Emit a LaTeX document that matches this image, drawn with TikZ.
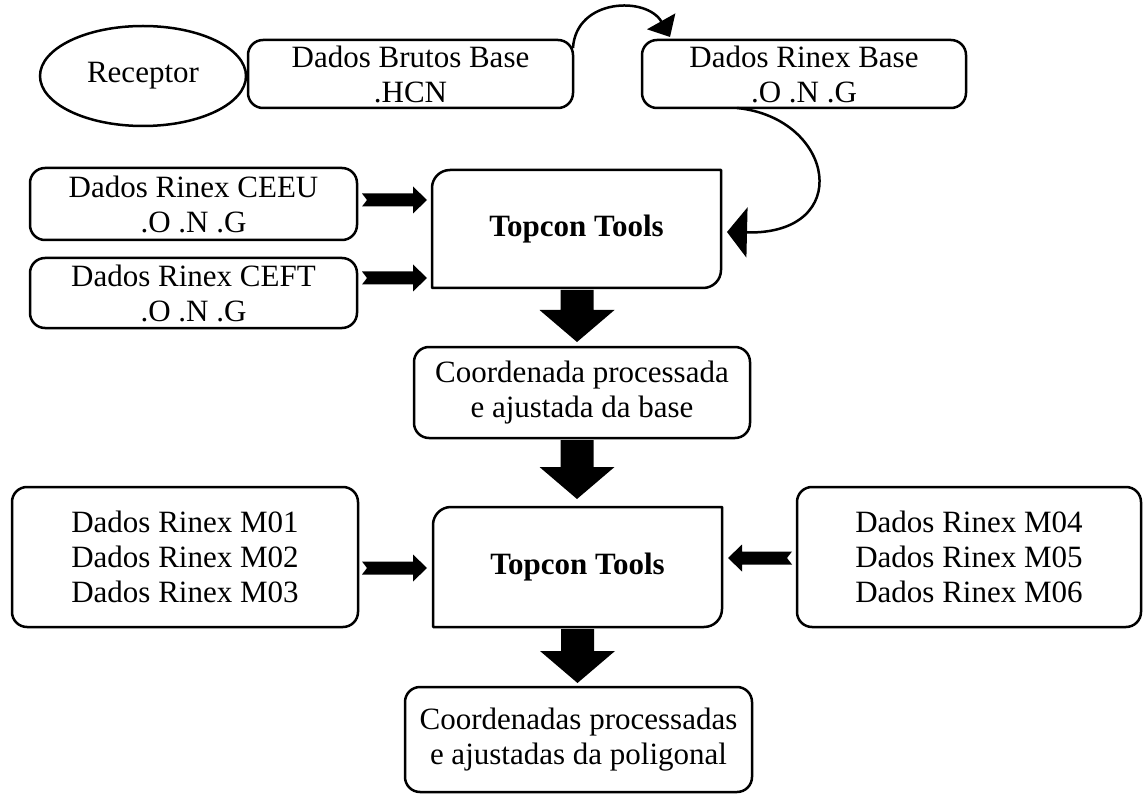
\documentclass[tikz,border=0pt]{standalone}
\usepackage{fontspec}
\setmainfont{Liberation Serif}
\usetikzlibrary{calc,arrows.meta,shapes.geometric}

% block arrows between named points (canvas geometry)
\newcommand{\blkR}[2]{\fill let \p1=(#1), \p2=(#2) in
  (\x1,\y1+6.5pt) -- (\x2-14pt,\y1+6.5pt) -- (\x2-14pt,\y1+13.5pt) -- (\x2,\y1)
  -- (\x2-14pt,\y1-13.5pt) -- (\x2-14pt,\y1-6.5pt) -- (\x1,\y1-6.5pt) -- (\x1+5pt,\y1) -- cycle;}
\newcommand{\blkL}[2]{\fill let \p1=(#1), \p2=(#2) in
  (\x1,\y1+6.5pt) -- (\x2+14pt,\y1+6.5pt) -- (\x2+14pt,\y1+13.5pt) -- (\x2,\y1)
  -- (\x2+14pt,\y1-13.5pt) -- (\x2+14pt,\y1-6.5pt) -- (\x1,\y1-6.5pt) -- (\x1-5pt,\y1) -- cycle;}
\newcommand{\blkD}[2]{\fill let \p1=(#1), \p2=(#2) in
  (\x1-16.5pt,\y1) -- (\x1+16.5pt,\y1) -- (\x1+16.5pt,\y2+32pt) -- (\x1+37.5pt,\y2+32pt)
  -- (\x1,\y2) -- (\x1-37.5pt,\y2+32pt) -- (\x1-16.5pt,\y2+32pt) -- cycle;}
% box with rounded top-left and bottom-right corners
\newcommand{\diagbox}[1]{\draw[boxline]
  ([yshift=-18pt]#1.north west) .. controls ([yshift=-8pt]#1.north west) and ([xshift=8pt]#1.north west) .. ([xshift=18pt]#1.north west)
  -- (#1.north east)
  -- ([yshift=18pt]#1.south east) .. controls ([yshift=8pt]#1.south east) and ([xshift=-8pt]#1.south east) .. ([xshift=-18pt]#1.south east)
  -- (#1.south west) -- cycle;}

\tikzset{
  boxline/.style={line width=2.5pt, line join=round},
  rbox/.style={draw, line width=2.5pt, rounded corners=15pt, align=center, inner sep=0pt, outer sep=0pt},
  tbox/.style={align=center, inner sep=0pt, outer sep=0pt, font=\fontsize{31}{35}\selectfont\bfseries},
  curvy/.style={line width=2.5pt},
}

\begin{document}
\begin{tikzpicture}[x=1pt, y=-1pt, font=\fontsize{31}{35}\selectfont]
\useasboundingbox[fill=white] (0,0) rectangle (1143,794);

\node[draw, ellipse, line width=2.5pt, inner sep=0pt, minimum width=206pt, minimum height=100pt] (rec) at (143,76) {Receptor};
\node[rbox, minimum width=325pt, minimum height=68pt] (brutos) at (410.5,74) {Dados Brutos Base\\.HCN};
\node[rbox, minimum width=324pt, minimum height=68pt] (rbase) at (804,74) {Dados Rinex Base\\.O .N .G};
\node[rbox, minimum width=327pt, minimum height=72pt] (ceeu) at (193.5,204) {Dados Rinex CEEU\\.O .N .G};
\node[rbox, minimum width=327pt, minimum height=70pt] (ceft) at (193.5,293) {Dados Rinex CEFT\\.O .N .G};
\node[tbox, minimum width=289pt, minimum height=118pt] (t1) at (576.5,229) {Topcon Tools};
\node[rbox, minimum width=336pt, minimum height=91pt] (coord) at (582,392.5) {Coordenada processada\\e ajustada da base};
\node[tbox, minimum width=289pt, minimum height=120pt] (t2) at (577.5,567) {Topcon Tools};
\node[rbox, minimum width=346pt, minimum height=140pt] (m01) at (185,557) {Dados Rinex M01\\Dados Rinex M02\\Dados Rinex M03};
\node[rbox, minimum width=344pt, minimum height=140pt] (m04) at (969,557) {Dados Rinex M04\\Dados Rinex M05\\Dados Rinex M06};
\node[rbox, minimum width=347pt, minimum height=105pt] (final) at (578.5,739.5) {Coordenadas processadas\\e ajustadas da poligonal};

\diagbox{t1}
\diagbox{t2}

% curved connectors
\coordinate (c1s) at ($(brutos.north east)+(0,8)$);
\coordinate (c1e) at ($(rbase.north west)+(28,-3)$);
\draw[curvy, -{Triangle[length=18pt, width=32pt]}] (c1s) .. controls ($(c1s)+(3,-50)$) and ($(c1e)+(-23,-41)$) .. (c1e);
\coordinate (c2s) at ($(rbase.south)+(-67,0)$);
\coordinate (c2e) at ($(t1.east)+(6,3)$);
\draw[curvy, -{Triangle[length=20pt, width=50pt]}] (c2s) .. controls ($(c2s)+(98,10)$) and ($(c2e)+(128,3)$) .. (c2e);

% block arrows
\coordinate (a1s) at ($(ceeu.east)+(5,-4)$);   \coordinate (a1e) at ($(t1.west)+(-5,0)$);
\coordinate (a2s) at ($(ceft.east)+(5,-15)$);  \coordinate (a2e) at ($(t1.west)+(-5,0)$);
\coordinate (a3s) at ($(m01.east)+(4,11)$);    \coordinate (a3e) at ($(t2.west)+(-6,0)$);
\coordinate (a4s) at ($(m04.west)+(-5,1)$);    \coordinate (a4e) at ($(t2.east)+(6,0)$);
\blkR{a1s}{a1e}
\blkR{a2s}{a2e}
\blkR{a3s}{a3e}
\blkL{a4s}{a4e}

\coordinate (d1s) at ($(t1.south)+(0.5,2)$);   \coordinate (d1e) at ($(coord.north)+(0,-5)$);
\coordinate (d2s) at ($(coord.south)+(-5,2)$); \coordinate (d2e) at ($(t2.north)+(0,-8)$);
\coordinate (d3s) at ($(t2.south)+(0,2)$);     \coordinate (d3e) at ($(final.north)+(0,-4)$);
\blkD{d1s}{d1e}
\blkD{d2s}{d2e}
\blkD{d3s}{d3e}
\end{tikzpicture}
\end{document}
